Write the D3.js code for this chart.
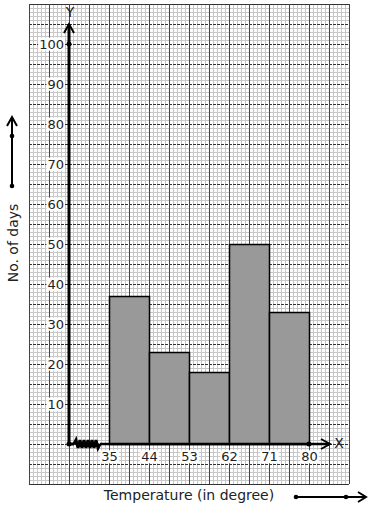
<!DOCTYPE html>
<html><head><meta charset="utf-8">
<script src="https://cdn.jsdelivr.net/npm/d3@7/dist/d3.min.js"></script>
<style>
html,body{margin:0;padding:0;background:#fff;}
svg{display:block;}
text{font-family:"DejaVu Sans",sans-serif;fill:#222;}
</style></head>
<body>
<script>
// ---- data ----
const classLower = [35, 44, 53, 62, 71];
const classUpper = [44, 53, 62, 71, 80];
const days = [37, 23, 18, 50, 33];
const xTickValues = [35, 44, 53, 62, 71, 80];
const yTickValues = [10, 20, 30, 40, 50, 60, 70, 80, 90, 100];
const xTitle = "Temperature (in degree)";
const yTitle = "No. of days";

const W = 371, H = 510;
const svg = d3.select("body").append("svg").attr("width", W).attr("height", H);

// graph-paper grid scales (minor cell = 4px)
const gx = d3.scaleLinear().domain([0, 80]).range([29, 349]);
const gy = d3.scaleLinear().domain([0, 120]).range([4, 484]);
const grid = svg.append("g");
// minor
grid.selectAll(".mv").data(d3.range(0, 81).filter(i => i % 5)).join("line")
  .attr("x1", d => gx(d) + .5).attr("x2", d => gx(d) + .5).attr("y1", gy(0)).attr("y2", gy(120))
  .attr("stroke", "#c8c8c8").attr("stroke-width", 1);
grid.selectAll(".mh").data(d3.range(0, 121).filter(i => i % 5)).join("line")
  .attr("y1", d => gy(d) + .5).attr("y2", d => gy(d) + .5).attr("x1", gx(0)).attr("x2", gx(80))
  .attr("stroke", "#c8c8c8").attr("stroke-width", 1);
// major
grid.selectAll(".Mh").data(d3.range(0, 121, 5)).join("line")
  .attr("y1", d => gy(d) + .5).attr("y2", d => gy(d) + .5).attr("x1", gx(0)).attr("x2", gx(80))
  .attr("stroke", "#333").attr("stroke-width", 1)
  .attr("stroke-dasharray", d => (d === 0 || d === 120) ? null : "3,1");
grid.selectAll(".Mv").data(d3.range(0, 81, 5)).join("line")
  .attr("x1", d => gx(d) + .5).attr("x2", d => gx(d) + .5).attr("y1", gy(0)).attr("y2", gy(120))
  .attr("stroke", "#444").attr("stroke-width", 1);

// data scales
const x = d3.scaleLinear().domain([26, 80]).range([69, 309]);
const y = d3.scaleLinear().domain([0, 100]).range([444, 44]);

// bars
svg.append("g").selectAll("rect").data(days).join("rect")
  .attr("x", (d, i) => x(classLower[i]) + .5)
  .attr("y", d => y(d) + .5)
  .attr("width", (d, i) => x(classUpper[i]) - x(classLower[i]))
  .attr("height", d => y(0) - y(d))
  .attr("fill", "#999").attr("stroke", "#000").attr("stroke-width", 1.5);

function labelBg(sel) {
  sel.each(function () {
    const b = this.getBBox();
    d3.select(this.parentNode).insert("rect", () => this)
      .attr("x", b.x - 1).attr("y", b.y + 1).attr("width", b.width + 2).attr("height", b.height - 2)
      .attr("fill", "#fff");
  });
}

// y tick labels
const yAxis = svg.append("g").attr("transform", "translate(64,0)")
  .call(d3.axisLeft(y).tickValues(yTickValues).tickSize(0).tickPadding(0));
yAxis.select(".domain").remove();
yAxis.selectAll("text").style("font-size", "13px").attr("fill", "#222").attr("font-family", "DejaVu Sans");
labelBg(yAxis.selectAll("text"));

// x tick labels
const xAxis = svg.append("g").attr("transform", "translate(0,452)")
  .call(d3.axisBottom(x).tickValues(xTickValues).tickSize(0).tickPadding(0));
xAxis.select(".domain").remove();
xAxis.selectAll("text").style("font-size", "13px").attr("fill", "#222").attr("font-family", "DejaVu Sans");
labelBg(xAxis.selectAll("text"));

// axes lines
const ax = svg.append("g").attr("stroke", "#000").attr("fill", "none");
ax.append("line").attr("x1", x(26)).attr("x2", x(26)).attr("y1", y(0)).attr("y2", 24).attr("stroke-width", 3);
ax.append("path").attr("d", `M${x(26) - 5},${33} L${x(26)},${24} L${x(26) + 5},${33}`).attr("stroke-width", 2);
// x axis with zigzag break
ax.append("line").attr("x1", x(26)).attr("x2", 74).attr("y1", y(0)).attr("y2", y(0)).attr("stroke-width", 3);
const zz = d3.range(0, 14).map(i => [74 + i * 2, y(0) + (i === 0 || i === 13 ? 0 : (i % 2 ? -4 : 4))]);
ax.append("path").attr("d", d3.line()(zz)).attr("stroke-width", 3);
ax.append("line").attr("x1", 100).attr("x2", 330).attr("y1", y(0)).attr("y2", y(0)).attr("stroke-width", 2.5);
ax.append("path").attr("d", `M321,${y(0) - 5} L330,${y(0)} L321,${y(0) + 5}`).attr("stroke-width", 2);

// dots
svg.append("g").selectAll("circle").data([[x(26), y(0)], [x(26), y(100)], [x(80), y(0)]]).join("circle")
  .attr("cx", d => d[0]).attr("cy", d => d[1]).attr("r", 2.5).attr("fill", "#000");

// axis letters
svg.append("text").attr("x", 70).attr("y", 17).attr("text-anchor", "middle").style("font-size", "14px").text("Y");
svg.append("text").attr("x", 339).attr("y", 448).attr("text-anchor", "middle").style("font-size", "14px").text("X");

// titles
svg.append("text").attr("x", 189).attr("y", 500).attr("text-anchor", "middle").style("font-size", "14px").text(xTitle);
svg.append("text").attr("transform", "translate(18,243) rotate(-90)").attr("text-anchor", "middle").style("font-size", "14px").text(yTitle);

// direction arrows
const da = svg.append("g").attr("stroke", "#000").attr("fill", "none").attr("stroke-width", 2);
da.append("line").attr("x1", 12).attr("x2", 12).attr("y1", 186).attr("y2", 117);
da.append("path").attr("d", "M7,126 L12,117 L17,126");
da.append("line").attr("x1", 296).attr("x2", 366).attr("y1", 497).attr("y2", 497);
da.append("path").attr("d", "M358,492 L366,497 L358,502");
svg.append("g").selectAll("circle").data([[12, 186], [12, 136], [296, 497], [346, 497]]).join("circle")
  .attr("cx", d => d[0]).attr("cy", d => d[1]).attr("r", 2.3).attr("fill", "#000");
</script>
</body></html>
